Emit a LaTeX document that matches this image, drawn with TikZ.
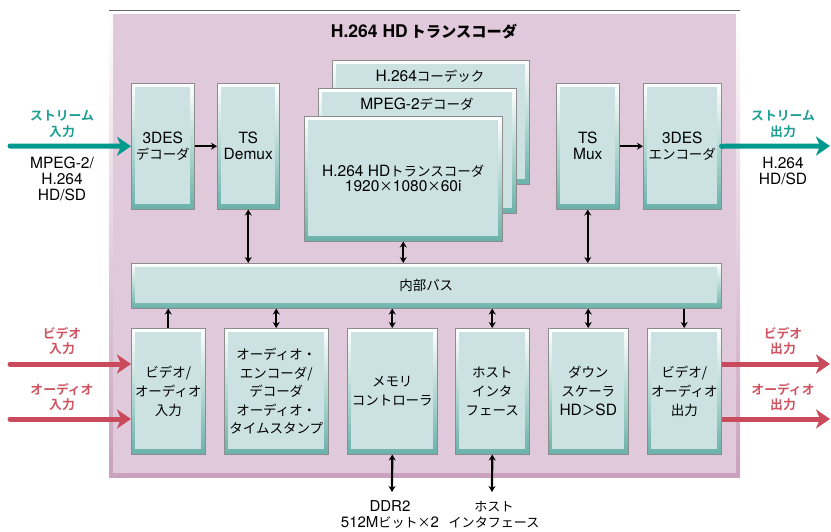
\documentclass[tikz,border=0pt]{standalone}
\usepackage{fontspec}
\setmainfont{TeX Gyre Heros}
\newfontfamily\cjk{Noto Sans CJK JP}[Scale=0.87]
\newfontfamily\cjkb{Noto Sans CJK JP Bold}[Scale=0.87]
\newcommand\J[1]{{\cjk #1}}
\newcommand\JB[1]{{\cjkb #1}}
\usetikzlibrary{arrows.meta}
\definecolor{pinkfill}{HTML}{E1C9DC}
\definecolor{pinkdark}{HTML}{C9A1BD}
\definecolor{boxfill}{HTML}{CCE2E2}
\definecolor{boxteal}{HTML}{6AB2AA}
\definecolor{streamteal}{HTML}{00998D}
\definecolor{sigred}{HTML}{C94B5B}
\definecolor{redtext}{HTML}{D05562}
\definecolor{tealtext}{HTML}{1D9E92}
\tikzset{
  blk/.style={rectangle, inner sep=0pt, anchor=north west, align=center,
    font=\fontsize{15.5}{16}\selectfont, draw=black!45, line width=0.5pt,
    path picture={
      \shade[top color=white, bottom color=boxteal]
        (path picture bounding box.south west) rectangle (path picture bounding box.north east);
      \fill[boxfill] ([shift={(4pt,5pt)}]path picture bounding box.south west)
        rectangle ([shift={(-4pt,-4pt)}]path picture bounding box.north east);
    }},
  lowblk/.style={blk, minimum height=126, font=\fontsize{15.5}{19}\selectfont},
  topblk/.style={blk, minimum height=126},
  arr/.style={line width=2.2pt, -{Stealth[length=6pt,width=7pt]}},
  darr/.style={line width=2.2pt, {Stealth[length=6pt,width=7pt]}-{Stealth[length=6pt,width=7pt]}},
  sig/.style={line width=5pt, line cap=round, -{Stealth[length=14pt,width=19pt,inset=4pt]}},
  lbl/.style={align=center, font=\fontsize{15.5}{16}\selectfont, inner sep=0pt},
  clbl/.style={align=center, font=\fontsize{14.7}{15.5}\selectfont, inner sep=0pt},
}
\begin{document}
\begin{tikzpicture}[x=1pt,y=-1pt]
\useasboundingbox (0,0) rectangle (831,531);
% outer frame
\shade[top color=white, bottom color=pinkdark] (109,10) rectangle (740,477);
\fill[pinkfill] (113,14) rectangle (736,473);
\draw[black!60, line width=0.7pt] (109,10) -- (740,10);
\node[font=\bfseries\fontsize{17.5}{19}\selectfont, inner sep=0pt] (title) at (424,32) {H.264 HD\,\JB{トランスコーダ}};

% top row
\node[topblk, minimum width=63] (des) at (131,83) {3DES\\\J{デコーダ}};
\node[topblk, minimum width=62] (demux) at (217,83) {TS\\Demux};
\node[blk, minimum width=197, minimum height=124] (codec) at (332,60) {};
\node[lbl] (codect) at (430,76) {H.264\J{コーデック}};
\node[blk, minimum width=198, minimum height=125] (mpeg) at (318,88) {};
\node[lbl] (mpegt) at (417,104) {MPEG-2\J{デコーダ}};
\node[blk, minimum width=198, minimum height=125, font=\fontsize{15.5}{15}\selectfont] (front) at (304,116) {H.264 HD\J{トランスコーダ}\\1920\J{×}1080\J{×}60i};
\node[topblk, minimum width=63] (mux) at (556,83) {TS\\Mux};
\node[topblk, minimum width=78] (enc) at (643,83) {3DES\\\J{エンコーダ}};

% bus
\node[blk, minimum width=590, minimum height=45] (bus) at (131,263) {\J{内部バス}};

% bottom row
\node[lowblk, minimum width=74] (vin) at (131,328) {\J{ビデオ/}\\\J{オーディオ}\\\J{入力}};
\node[lowblk, minimum width=104, font=\fontsize{15.5}{18.5}\selectfont] (aenc) at (224,328) {\J{オーディオ・}\\\J{エンコーダ/}\\\J{デコーダ}\\\J{オーディオ・}\\\J{タイムスタンプ}};
\node[lowblk, minimum width=90] (mem) at (347,328) {\J{メモリ}\\\J{コントローラ}};
\node[lowblk, minimum width=74] (host) at (455,328) {\J{ホスト}\\\J{インタ}\\\J{フェース}};
\node[lowblk, minimum width=80] (down) at (548,328) {\J{ダウン}\\\J{スケーラ}\\HD\J{＞}SD};
\node[lowblk, minimum width=74] (vout) at (647,328) {\J{ビデオ/}\\\J{オーディオ}\\\J{出力}};

% internal arrows
\draw[arr] (des.east) -- (demux.west);
\draw[arr] (mux.east) -- (enc.west);
\draw[darr] (demux.south) -- (demux.south |- bus.north);
\draw[darr] (front.south) -- (front.south |- bus.north);
\draw[darr] (mux.south) -- (mux.south |- bus.north);
\draw[arr] (vin.north) -- (vin.north |- bus.south);
\draw[darr] (aenc.north) -- (aenc.north |- bus.south);
\draw[darr] (mem.north) -- (mem.north |- bus.south);
\draw[darr] (host.north) -- (host.north |- bus.south);
\draw[darr] (down.north) -- (down.north |- bus.south);
\draw[arr] (vout.north |- bus.south) -- (vout.north);

% external bottom
\coordinate (ddr) at (392,492);
\coordinate (hif) at (492,492);
\draw[darr] (mem.south) -- (ddr);
\draw[darr] (host.south) -- (hif);
\node[lbl, font=\fontsize{15}{16}\selectfont] (ddrt) at (390,515) {DDR2\\512M\J{ビット×}2};
\node[lbl, font=\fontsize{15}{16}\selectfont] (hift) at (494,515) {\J{ホスト}\\\J{インタフェース}};

% stream arrows
\coordinate (sin) at (10,146);
\coordinate (sout) at (830,146);
\draw[sig, streamteal] (sin) -- (des.west);
\draw[sig, streamteal] (enc.east) -- (sout);
\node[clbl, text=tealtext] (sinl) at (62,124) {\JB{ストリーム}\\\JB{入力}};
\node[lbl] (sinf) at (62,179) {MPEG-2/\\H.264\\HD/SD};
\node[clbl, text=tealtext] (soutl) at (783,124) {\JB{ストリーム}\\\JB{出力}};
\node[lbl] (soutf) at (783,171) {H.264\\HD/SD};

% video / audio arrows
\coordinate (vl) at (10,364);
\coordinate (al) at (10,419);
\coordinate (vr) at (830,364);
\coordinate (ar) at (830,419);
\draw[sig, sigred] (vl) -- (vl -| vin.west);
\draw[sig, sigred] (al) -- (al -| vin.west);
\draw[sig, sigred, line cap=butt] (vr -| vout.east) -- (vr);
\draw[sig, sigred, line cap=butt] (ar -| vout.east) -- (ar);
\node[clbl, text=redtext] (vll) at (62,341) {\JB{ビデオ}\\\JB{入力}};
\node[clbl, text=redtext] (all) at (62,397) {\JB{オーディオ}\\\JB{入力}};
\node[clbl, text=redtext] (vrl) at (783,341) {\JB{ビデオ}\\\JB{出力}};
\node[clbl, text=redtext] (arl) at (783,397) {\JB{オーディオ}\\\JB{出力}};
\end{tikzpicture}
\end{document}
